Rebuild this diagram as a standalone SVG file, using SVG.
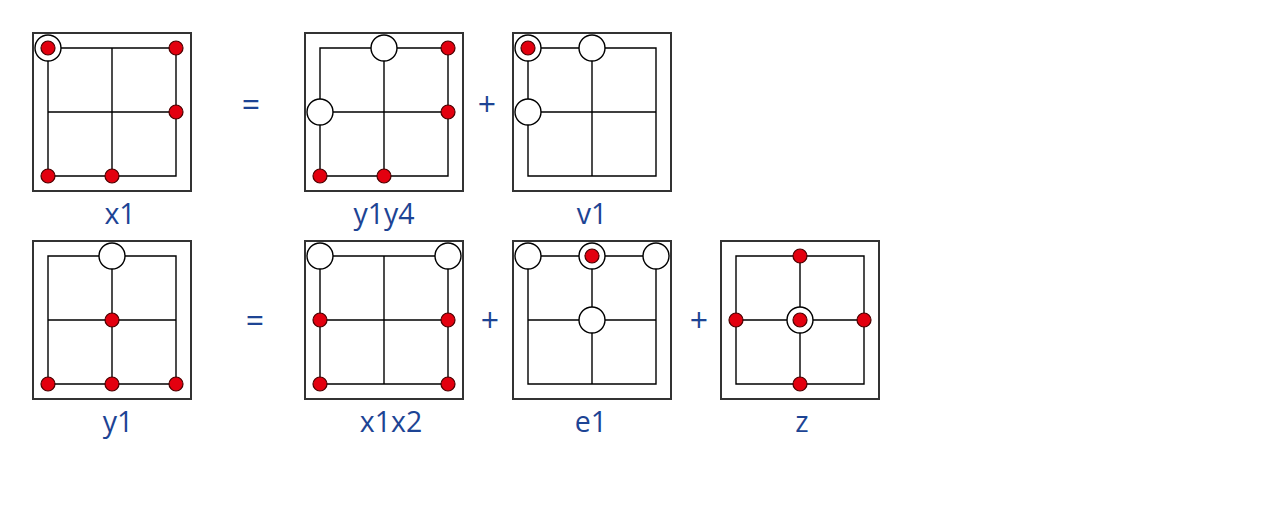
<svg xmlns="http://www.w3.org/2000/svg" width="1280" height="512" viewBox="0 0 1280 512">
<style>
.box{fill:#fff;stroke:#333;stroke-width:2}
.grid{fill:none;stroke:#000;stroke-width:1.4}
.red{fill:#e3000f;stroke:#4a0000;stroke-width:1.2}
.ring{fill:#fff;stroke:#000;stroke-width:1.4}
.lbl{font-family:"Open Sans","Noto Sans","DejaVu Sans",sans-serif;font-size:28.5px;fill:#1d4494;text-anchor:middle}
.op{font-family:"Open Sans","Noto Sans","DejaVu Sans",sans-serif;font-size:32px;fill:#1d4494;text-anchor:middle}
</style>
<defs>
<g id="cell">
<rect class="box" x="0" y="0" width="158" height="158"/>
<path class="grid" d="M15 15H143V143H15Z M79 15V143 M15 79H143"/>
</g>
</defs>
<rect width="1280" height="512" fill="#fff"/>
<g id="x1">
<use href="#cell" x="33" y="33"/>
<circle class="ring" cx="48" cy="48" r="13"/>
<circle class="red" cx="48" cy="48" r="7"/>
<circle class="red" cx="176" cy="48" r="7"/>
<circle class="red" cx="176" cy="112" r="7"/>
<circle class="red" cx="48" cy="176" r="7"/>
<circle class="red" cx="112" cy="176" r="7"/>
<text class="lbl" x="120" y="224">x1</text>
</g>
<g id="y1y4">
<use href="#cell" x="305" y="33"/>
<circle class="ring" cx="384" cy="48" r="13"/>
<circle class="ring" cx="320" cy="112" r="13"/>
<circle class="red" cx="448" cy="48" r="7"/>
<circle class="red" cx="448" cy="112" r="7"/>
<circle class="red" cx="320" cy="176" r="7"/>
<circle class="red" cx="384" cy="176" r="7"/>
<text class="lbl" x="384" y="224">y1y4</text>
</g>
<g id="v1">
<use href="#cell" x="513" y="33"/>
<circle class="ring" cx="528" cy="48" r="13"/>
<circle class="red" cx="528" cy="48" r="7"/>
<circle class="ring" cx="592" cy="48" r="13"/>
<circle class="ring" cx="528" cy="112" r="13"/>
<text class="lbl" x="592" y="224">v1</text>
</g>
<g id="y1">
<use href="#cell" x="33" y="241"/>
<circle class="ring" cx="112" cy="256" r="13"/>
<circle class="red" cx="112" cy="320" r="7"/>
<circle class="red" cx="48" cy="384" r="7"/>
<circle class="red" cx="112" cy="384" r="7"/>
<circle class="red" cx="176" cy="384" r="7"/>
<text class="lbl" x="118" y="432">y1</text>
</g>
<g id="x1x2">
<use href="#cell" x="305" y="241"/>
<circle class="ring" cx="320" cy="256" r="13"/>
<circle class="ring" cx="448" cy="256" r="13"/>
<circle class="red" cx="320" cy="320" r="7"/>
<circle class="red" cx="448" cy="320" r="7"/>
<circle class="red" cx="320" cy="384" r="7"/>
<circle class="red" cx="448" cy="384" r="7"/>
<text class="lbl" x="391" y="432">x1x2</text>
</g>
<g id="e1">
<use href="#cell" x="513" y="241"/>
<circle class="ring" cx="528" cy="256" r="13"/>
<circle class="ring" cx="592" cy="256" r="13"/>
<circle class="red" cx="592" cy="256" r="7"/>
<circle class="ring" cx="656" cy="256" r="13"/>
<circle class="ring" cx="592" cy="320" r="13"/>
<text class="lbl" x="591" y="432">e1</text>
</g>
<g id="z">
<use href="#cell" x="721" y="241"/>
<circle class="red" cx="800" cy="256" r="7"/>
<circle class="red" cx="736" cy="320" r="7"/>
<circle class="ring" cx="800" cy="320" r="13"/>
<circle class="red" cx="800" cy="320" r="7"/>
<circle class="red" cx="864" cy="320" r="7"/>
<circle class="red" cx="800" cy="384" r="7"/>
<text class="lbl" x="802" y="432">z</text>
</g>
<g id="connectors">
<text class="op" x="251" y="116">=</text>
<text class="op" x="487" y="116">+</text>
<text class="op" x="255" y="332">=</text>
<text class="op" x="490" y="332">+</text>
<text class="op" x="699" y="332">+</text>
</g>
</svg>
